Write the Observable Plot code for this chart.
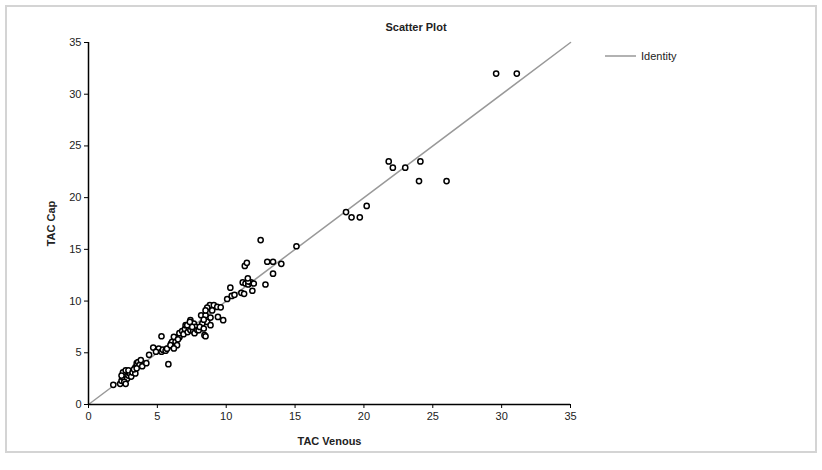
<!DOCTYPE html>
<html>
<head>
<meta charset="utf-8">
<script src="https://cdn.jsdelivr.net/npm/d3@7"></script>
<script src="https://cdn.jsdelivr.net/npm/@observablehq/plot@0.6"></script>
<style>
  html, body { margin: 0; padding: 0; background: #fff; }
  #chart { width: 822px; height: 470px; }
  svg { font-family: "Liberation Sans", Arial, sans-serif; }
</style>
</head>
<body>
<div id="chart"></div>
<script>
const title = "Scatter Plot";
const xLabel = "TAC Venous";
const yLabel = "TAC Cap";
const legendLabel = "Identity";
const tickValues = [0, 5, 10, 15, 20, 25, 30, 35];
const identityEnds = [0, 35];

const tacVenous = [
  1.8, 2.3, 2.4, 2.5, 2.6, 2.5, 2.7, 2.8, 2.9, 3.0, 2.6, 3.1, 2.7, 2.9, 3.2, 2.4, 3.4,
  3.4, 3.5, 3.6, 3.7, 3.9, 3.3, 3.8, 3.5,
  4.4, 4.2, 4.7, 5.0, 5.1, 5.3, 5.4, 5.6, 4.9, 5.3, 5.8, 5.7,
  6.1, 6.2, 6.3, 6.4, 6.6, 6.0,
  6.07, 6.32, 5.95, 6.43, 6.2, 6.2, 6.5, 6.6, 6.8, 6.9, 7.0, 7.05, 7.2, 7.3, 7.4, 7.4, 7.5, 7.6,
  7.65, 7.77, 7.7, 7.9, 8.0, 8.42, 8.5, 7.17, 7.36, 7.53, 8.26, 8.62, 8.08, 8.37, 8.86,
  8.18, 8.5, 8.37, 8.86, 9.4, 9.78, 8.81, 9.1, 8.62, 9.35, 8.5, 8.98, 9.6,
  10.07, 10.4, 10.3, 10.6, 11.1, 11.3, 11.2, 11.4, 11.6, 11.8, 12.0, 11.6, 11.9, 12.85, 11.57,
  13.4, 11.35, 11.5, 12.98, 13.4, 14.0, 12.5, 15.1,
  18.7, 19.1, 19.7, 20.2, 21.8, 22.1, 23.0, 24.1, 24.0, 26.0, 29.6, 31.1
];
const tacCap = [
  1.9, 2.0, 2.3, 2.6, 2.9, 3.1, 3.3, 2.5, 2.8, 3.0, 2.2, 2.7, 2.0, 3.3, 3.1, 2.8, 3.0,
  3.6, 4.0, 4.1, 3.8, 3.7, 3.4, 4.3, 3.5,
  4.8, 4.0, 5.5, 5.2, 5.4, 5.1, 5.3, 5.2, 5.1, 6.6, 3.9, 5.4,
  5.6, 6.0, 6.2, 6.5, 6.5, 5.9,
  6.06, 6.06, 5.74, 5.74, 5.42, 6.54, 6.3, 6.9, 7.1, 6.8, 7.3, 7.67, 7.0, 7.4, 7.2, 8.15, 7.5, 7.1,
  7.83, 7.5, 6.9, 7.2, 7.18, 6.7, 6.6, 7.67, 7.98, 7.5, 7.83, 7.98, 7.5, 7.35, 7.67,
  8.63, 8.63, 8.2, 8.4, 8.47, 8.15, 9.6, 9.6, 9.37, 9.43, 9.1, 9.1, 9.4,
  10.2, 10.5, 11.3, 10.6, 10.8, 10.7, 11.8, 11.7, 11.6, 11.8, 11.7, 11.9, 11.0, 11.6, 12.2,
  12.65, 13.4, 13.7, 13.8, 13.8, 13.6, 15.9, 15.3,
  18.6, 18.1, 18.1, 19.2, 23.5, 22.9, 22.9, 23.5, 21.6, 21.6, 32.0, 32.0
];

const points = tacVenous.map((v, i) => ({x: v, y: tacCap[i]}));
const identity = identityEnds.map(v => ({x: v, y: v}));

const W = 822, H = 470;
const plot = Plot.plot({
  width: W,
  height: H,
  marginLeft: 88,
  marginRight: 252,
  marginTop: 42,
  marginBottom: 66,
  style: {fontFamily: "'Liberation Sans', Arial, sans-serif", fontSize: "11px", color: "#000", background: "#fff"},
  x: {domain: [0, 35], ticks: tickValues, label: null},
  y: {domain: [0, 35], ticks: tickValues, label: null},
  marks: [
    Plot.line(identity, {x: "x", y: "y", stroke: "#999", strokeWidth: 1.5}),
    Plot.dot(points, {x: "x", y: "y", r: 2.6, stroke: "#000", strokeWidth: 1.5, fill: "#fff"}),
    Plot.ruleY([0], {stroke: "#000", strokeWidth: 1.5}),
    Plot.ruleX([0], {stroke: "#000", strokeWidth: 1.5}),
    Plot.axisX({ticks: tickValues, tickSize: 4, tickPadding: 4, stroke: "#000", fill: "#222", label: null, fontSize: 11}),
    Plot.axisY({ticks: tickValues, tickSize: 4, tickPadding: 3, stroke: "#000", fill: "#222", label: null, fontSize: 11}),
    Plot.axisX({ticks: [], label: xLabel, labelAnchor: "center", labelOffset: 40, labelArrow: "none", fontWeight: "bold", fontSize: 11, fill: "#222"}),
    Plot.axisY({ticks: [], label: yLabel, labelAnchor: "center", labelOffset: 41, labelArrow: "none", fontWeight: "bold", fontSize: 11, fill: "#222"})
  ]
});

const svg = d3.select(plot);
// outer frame
svg.insert("rect", ":first-child")
  .attr("x", 6).attr("y", 6).attr("width", W - 12).attr("height", 446)
  .attr("fill", "none").attr("stroke", "#d4d4d4").attr("stroke-width", 2);
// title
svg.append("text").attr("x", 416).attr("y", 31)
  .attr("text-anchor", "middle").attr("font-weight", "bold").attr("font-size", 11)
  .attr("fill", "#222").text(title);
// legend
svg.append("line").attr("x1", 605).attr("x2", 636).attr("y1", 56).attr("y2", 56)
  .attr("stroke", "#999").attr("stroke-width", 1.5);
svg.append("text").attr("x", 641).attr("y", 60).attr("font-size", 11)
  .attr("text-anchor", "start")
  .attr("fill", "#222").text(legendLabel);

document.getElementById("chart").appendChild(plot);
</script>
</body>
</html>
